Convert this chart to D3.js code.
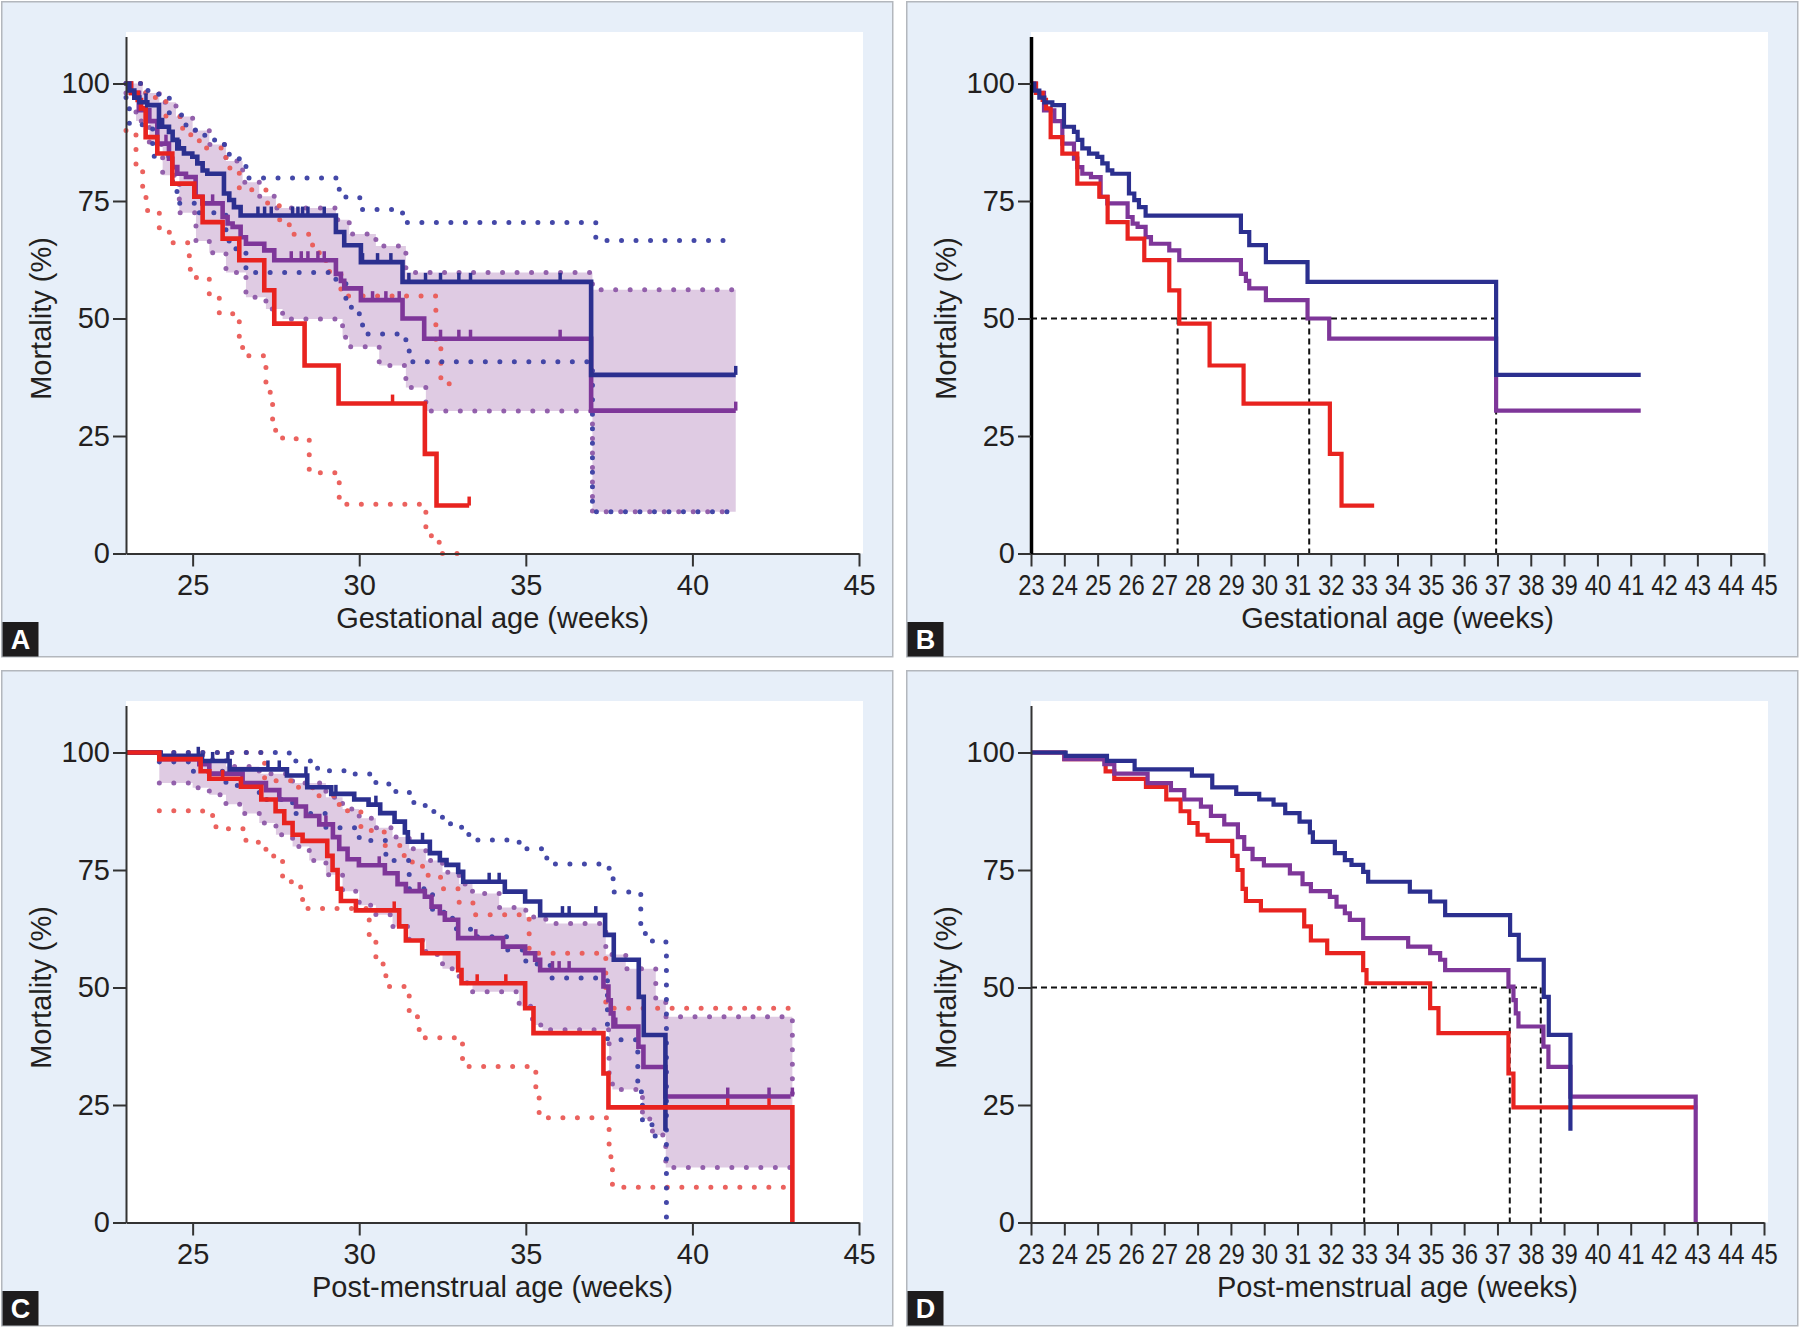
<!DOCTYPE html>
<html><head><meta charset="utf-8">
<script src="https://cdn.jsdelivr.net/npm/d3@7"></script>
<style>body{margin:0;background:#fff}svg{display:block}</style>
</head><body><svg id="c" width="1800" height="1329"></svg>
<script>
// ---------- DATA (week, mortality %) ----------
const gaTicks = [25, 30, 35, 40, 45];
const gaTicksFine = d3.range(23, 46);
const yTicks = [0, 25, 50, 75, 100];

const gaBlue = [[23,100],[23.1,98.5],[23.25,97],[23.4,96],[23.64,95.4],[23.99,90.8],[24.29,89.7],[24.4,88],[24.54,86.2],[24.74,85.1],[24.99,84.4],[25.14,83],[25.3,81.5],[25.44,80.8],[25.94,76.6],[26.1,75.2],[26.24,73.7],[26.44,71.9],[29.3,68.4],[29.55,65.6],[30.05,62.0],[31.3,57.8],[36.96,38.0],[41.3,38.0]];
const gaPurple = [[23,100],[23.15,98],[23.39,94.3],[23.7,92],[23.94,87.2],[24.29,84],[24.39,82.2],[24.54,80.8],[24.8,80.1],[25.09,75.9],[25.29,74.5],[25.9,71.6],[26.05,70.2],[26.2,69.5],[26.44,67.3],[26.6,65.9],[27.15,64.5],[27.45,62.4],[29.3,59.5],[29.45,58],[29.55,56.4],[30.05,53.9],[31.3,50],[31.95,45.7],[36.96,30.4],[41.3,30.4]];
const gaRed = [[23,100],[23.15,98],[23.35,96.5],[23.45,94.7],[23.59,88.6],[23.94,85.1],[24.39,78.7],[25.05,75.9],[25.3,70.5],[25.9,67],[26.4,62.4],[27.15,56],[27.45,48.9],[28.36,40],[29.38,31.9],[31.97,21.2],[32.32,10.2],[33.3,10.2]];

const gaBlueUpper = [[23,100],[23.5,98.5],[23.98,96.9],[24.3,93.3],[24.8,90.1],[25.1,89],[25.4,88],[25.7,87],[26.1,84.5],[26.4,82.4],[26.6,79.9],[29.3,77.5],[29.6,75.7],[30.1,73.2],[31.3,70.4],[37.1,66.6],[41.3,66.6]];
const gaBlueLower = [[23,97],[23.1,91.2],[23.8,84.5],[24.4,77],[24.6,74.5],[25.2,72.5],[26.0,66.5],[26.3,64.4],[26.6,59.8],[29.3,58],[29.6,52.4],[29.8,51],[30.1,46.7],[31.4,43.2],[31.5,40.8],[37.0,8.9],[41.3,8.9]];
const gaPurpleUpper = [[23,100],[23.5,98],[24,96],[24.5,93],[25,90],[25.5,87],[26,83.5],[26.5,79],[27,76],[27.5,73.5],[29.3,71],[29.7,68],[30.5,65.4],[31.4,59.8],[37.0,56.1],[41.3,56.1]];
const gaPurpleLower = [[23,98],[23.3,92],[23.7,87],[24.1,80.5],[24.6,72.5],[25.1,66.5],[25.5,64],[26.0,59.8],[26.6,54.5],[27.2,52],[27.7,49.9],[29.5,46],[29.7,44],[30.6,40],[31.4,35.3],[32.0,30.3],[37.0,8.9],[41.3,8.9]];
const gaRedUpper = [[23,100],[23.6,97],[24.2,93],[24.7,89.1],[25.2,86.3],[26.0,82],[26.4,77.4],[27.2,74.6],[27.6,71],[27.9,67.9],[28.6,64],[29.0,60],[29.45,54.8],[32.3,44.2],[32.45,36.1],[33.0,36.1]];
const gaRedLower = [[23,90],[23.3,82],[23.5,76.4],[23.6,73],[24.0,69],[24.3,66.1],[24.9,60.5],[25.1,58.7],[25.5,55],[25.8,51],[26.4,45.6],[26.5,42.1],[27.2,34.3],[27.4,26.2],[27.7,24.4],[28.5,17.2],[29.4,10.5],[32.0,3.8],[32.4,0],[33.0,0]];

const gaBlueCensor = [23.6,24.1,24.6,25.3,26.96,27.16,27.36,28.0,28.16,28.3,28.46,28.95,30.1,30.55,30.95,31.49,31.99,32.44,32.99,33.34,36.03,41.3];
const gaPurpleCensor = [24.2,25.6,27.96,28.26,28.46,28.76,28.95,30.4,30.8,31.2,32.44,32.99,33.34,36.03,41.3];
const gaRedCensor = [31.0,33.3];
const gaMedians = [27.4, 31.35, 36.96];

const pmaBlue = [[23,100],[24.04,99.3],[25.28,98.2],[26.11,96.4],[27.83,95.1],[28.44,92.6],[29.16,91.2],[29.85,90.0],[30.28,88.9],[30.63,87.1],[31.06,85.3],[31.37,83.0],[31.46,81.0],[32.12,78.6],[32.42,77.1],[32.62,76.1],[32.97,74.6],[33.12,72.5],[34.37,70.4],[34.98,68.3],[35.43,65.4],[37.38,61.2],[37.64,55.9],[38.39,48.0],[38.54,39.9],[39.19,19.5]];
const pmaPurple = [[23,100],[24.0,98.6],[25.2,97.5],[25.5,95.5],[26.5,93.5],[27.2,92],[27.6,90],[28.1,88.5],[28.4,86.5],[28.8,84.7],[29.21,82],[29.4,79.5],[29.65,77.3],[29.99,76],[30.77,74.3],[31.15,72],[31.4,70.5],[31.97,69.3],[32.17,67.2],[32.42,65.8],[32.57,64.4],[32.97,60.5],[34.32,58.7],[34.98,57.3],[35.28,55.9],[35.43,53.7],[37.33,50.2],[37.48,47.3],[37.55,44.5],[37.63,41.7],[38.38,37.4],[38.53,33.1],[39.19,26.8],[42.95,26.8]];
const pmaRed = [[23,100],[24.0,98.6],[25.24,96],[25.5,94.4],[26.45,92.7],[27.06,90],[27.49,87.5],[27.75,85],[28.0,82.5],[28.3,81.2],[29.04,78],[29.2,75],[29.35,71],[29.45,68.4],[29.9,66.4],[31.2,63],[31.4,60],[31.89,57.3],[32.97,53.7],[33.07,50.9],[34.98,45.6],[35.23,40.3],[37.33,31.7],[37.48,24.5],[43.0,24.5]];
const pmaPurpleD = pmaPurple.concat([[42.95,0]]);
const pmaRedC = pmaRed.concat([[43.0,0]]);

const pmaBlueUpper = [[24,100],[27.9,98.2],[28.75,96.1],[29.85,95.4],[30.5,93.3],[31.1,91.5],[31.64,88.7],[32.24,86.2],[32.74,84.1],[33.29,81.4],[34.8,79.5],[35.48,78.1],[35.63,76.3],[37.5,73.6],[37.62,70.3],[38.45,61.5],[38.8,59.7],[39.22,0]];
const pmaBlueLower = [[24,98],[25,96],[26,93],[27,90],[28,87],[29,84],[30,81.3],[30.8,77],[31.5,71],[32.2,66],[32.8,62.5],[33.34,60.8],[34.43,58],[35.0,55],[35.73,52],[37.45,38.9],[38.36,27.8],[38.5,20.8],[38.82,18.4],[39.0,18.4]];
const pmaPurpleUpper = [[24,99.5],[25.3,98.5],[26,97],[27,95.5],[28,93.5],[29,90.5],[29.5,88],[30,86],[30.5,84],[31,82],[31.5,79.5],[32,77],[32.5,74.5],[33,72],[33.4,70],[34.2,67],[35,65],[35.6,63.6],[37.4,57],[38,54],[38.9,47.4],[39.2,43.8],[43,27]];
const pmaPurpleLower = [[24,93.5],[25,92.5],[25.5,91],[26,89],[26.5,87],[27,85],[27.5,82.5],[28,80],[28.5,77],[29,74],[29.5,70.5],[30,67.5],[30.5,65.5],[31,63],[31.5,60],[32,57],[32.5,54],[33,51],[33.4,49.1],[34.8,46],[35.2,42],[35.5,41],[37.5,30],[37.6,28.3],[38.5,22],[38.8,18.6],[39.2,11.7],[43,11.7]];
const pmaRedUpper = [[24,100],[27.16,94],[27.96,92.6],[28.6,90.8],[29.4,87.6],[30.05,83.4],[30.75,80.2],[31.35,76.7],[31.9,73.9],[32.44,71],[33.0,68],[33.44,65.5],[35.1,57.3],[37.4,45.6],[43,45.6]];
const pmaRedLower = [[24,87.6],[25.3,86.6],[25.7,83.8],[26.6,80.9],[27.2,78],[27.7,72.5],[28.0,71.4],[28.3,66.8],[30.3,61],[30.5,55],[30.8,50.2],[31.5,43.8],[31.8,39.3],[33.1,33.2],[35.3,27],[35.4,22.3],[37.5,14],[37.6,7.5],[43,7.5]];

const pmaBlueCensor = [25.17,25.6,26.06,27.26,27.6,28.4,29.3,30.5,31.9,33.9,34.2,36.1,36.3,37.1];
const pmaPurpleCensor = [29.0,30.6,31.8,33.5,35.8,36.0,36.3,37.7,41.06,42.3,43.0];
const pmaRedCensor = [25.9,31.05,33.54,34.4,41.06,42.3];
const pmaMedians = [33.0, 37.37, 38.3];

// ---------- STYLE ----------
const COL = {blue:'#2b2f8f', purple:'#7e3699', red:'#e8231f',
  dBlue:'#3a3ea3', dPurple:'#8d58a8', dRed:'#ea5a55', band:'#dcc5e0',
  bg:'#e7eff9', border:'#b3b7bd', text:'#231f20'};
const FONT = "'Liberation Sans', Arial, sans-serif";

const svg = d3.select('#c');

const panels = [
  {id:'A', ox:1, oy:1, ticks:gaTicks, title:'Gestational age (weeks)', lw:4.6,
   curves:[['purple',gaPurple],['red',gaRed],['blue',gaBlue]],
   band:[gaPurpleUpper, gaPurpleLower],
   dots:[['dPurple',gaPurpleUpper],['dPurple',gaPurpleLower],['dRed',gaRedUpper],['dRed',gaRedLower],['dBlue',gaBlueUpper],['dBlue',gaBlueLower]],
   censor:[['purple',gaPurple,gaPurpleCensor],['red',gaRed,gaRedCensor],['blue',gaBlue,gaBlueCensor]]},
  {id:'B', ox:906, oy:1, ticks:gaTicksFine, fine:true, title:'Gestational age (weeks)', thickAxis:true, lw:4.2,
   curves:[['purple',gaPurple],['red',gaRed],['blue',gaBlue]], medians:gaMedians},
  {id:'C', ox:1, oy:670, ticks:gaTicks, title:'Post-menstrual age (weeks)', lw:4.6,
   curves:[['purple',pmaPurple],['blue',pmaBlue],['red',pmaRedC]],
   band:[pmaPurpleUpper, pmaPurpleLower],
   dots:[['dPurple',pmaPurpleUpper],['dPurple',pmaPurpleLower],['dRed',pmaRedUpper],['dRed',pmaRedLower],['dBlue',pmaBlueUpper],['dBlue',pmaBlueLower]],
   censor:[['purple',pmaPurple,pmaPurpleCensor],['red',pmaRed,pmaRedCensor],['blue',pmaBlue,pmaBlueCensor]]},
  {id:'D', ox:906, oy:670, ticks:gaTicksFine, fine:true, title:'Post-menstrual age (weeks)', lw:4.2,
   curves:[['red',pmaRed],['purple',pmaPurpleD],['blue',pmaBlue]], medians:pmaMedians}
];

function stepVal(arr, w){ let v = arr[0][1]; for (const d of arr){ if (d[0] <= w) v = d[1]; else break; } return v; }

panels.forEach(p => {
  const g = svg.append('g').attr('transform', `translate(${p.ox},${p.oy})`);
  g.append('rect').attr('x',0.75).attr('y',0.75).attr('width',891).attr('height',655)
    .attr('fill',COL.bg).attr('stroke',COL.border).attr('stroke-width',1.5);
  const x = d3.scaleLinear().domain([23,45]).range([125,858]);
  const y = d3.scaleLinear().domain([0,110]).range([552.5, 552.5 - 4.7*110]);
  g.append('rect').attr('x',x(23)).attr('y',31).attr('width',862-x(23)).attr('height',y(0)-31).attr('fill','#fff');

  const line = d3.line().x(d=>x(d[0])).y(d=>y(d[1])).curve(d3.curveStepAfter);

  if (p.band){
    const [up, lo] = p.band;
    const s = Math.max(up[0][0], lo[0][0]);
    const e = Math.min(up[up.length-1][0], lo[lo.length-1][0]);
    const ws = Array.from(new Set(up.concat(lo).map(d=>d[0]).filter(w=>w>=s && w<e))).sort((a,b)=>a-b);
    const pts = ws.map(w=>({w, hi:stepVal(up,w), lo:stepVal(lo,w)}));
    const last = pts[pts.length-1];
    pts.push({w:e, hi:last.hi, lo:last.lo});
    g.append('path').datum(pts)
      .attr('d', d3.area().x(d=>x(d.w)).y0(d=>y(d.lo)).y1(d=>y(d.hi)).curve(d3.curveStepAfter))
      .attr('fill', COL.band).attr('opacity',0.9);
  }
  if (p.dots){
    p.dots.forEach(([c, arr]) => {
      g.append('path').datum(arr).attr('d', line).attr('fill','none')
        .attr('stroke', COL[c]).attr('stroke-width',5).attr('stroke-linecap','round')
        .attr('stroke-dasharray','0 14.5').attr('opacity',0.95);
    });
  }
  if (p.medians){
    const mx = d3.max(p.medians);
    g.append('line').attr('x1',x(23)).attr('x2',x(mx)).attr('y1',y(50)).attr('y2',y(50))
      .attr('stroke','#111').attr('stroke-width',2).attr('stroke-dasharray','6 4');
    p.medians.forEach(m => {
      g.append('line').attr('x1',x(m)).attr('x2',x(m)).attr('y1',y(50)).attr('y2',y(0))
        .attr('stroke','#111').attr('stroke-width',2).attr('stroke-dasharray','6 4');
    });
  }
  p.curves.forEach(([c, arr]) => {
    g.append('path').datum(arr).attr('d', line).attr('fill','none')
      .attr('stroke', COL[c]).attr('stroke-width',p.lw).attr('stroke-linejoin','miter');
  });
  if (p.censor){
    p.censor.forEach(([c, arr, ws]) => {
      g.selectAll(null).data(ws).enter().append('line')
        .attr('x1', w=>x(w)).attr('x2', w=>x(w))
        .attr('y1', w=>y(stepVal(arr,w))).attr('y2', w=>y(stepVal(arr,w))-9)
        .attr('stroke', COL[c]).attr('stroke-width',3.5);
    });
  }

  // axes
  const xa = g.append('g').attr('transform',`translate(0,${y(0)})`)
    .call(d3.axisBottom(x).tickValues(p.ticks).tickFormat(d3.format('d')).tickSize(13).tickSizeOuter(0).tickPadding(8));
  const ya = g.append('g').attr('transform',`translate(${x(23)},0)`)
    .call(d3.axisLeft(y).tickValues(yTicks).tickSize(13).tickSizeOuter(0).tickPadding(3));
  [xa, ya].forEach(a => {
    a.selectAll('path,line').attr('stroke','#333').attr('stroke-width',2);
    a.selectAll('text').attr('fill',COL.text).style('font-family',FONT).style('font-size','29px');
  });
  if (p.fine) {
    xa.selectAll('text').attr('textLength',26.5).attr('lengthAdjust','spacingAndGlyphs');
  }
  if (p.thickAxis) ya.select('path').attr('stroke','#000').attr('stroke-width',3.5);

  g.append('text').attr('x',(x(23)+x(45))/2).attr('y',627)
    .attr('text-anchor','middle').attr('fill',COL.text).style('font-family',FONT).style('font-size','29px')
    .text(p.title);
  g.append('text').attr('transform',`translate(50,${y(50)}) rotate(-90)`)
    .attr('text-anchor','middle').attr('fill',COL.text).style('font-family',FONT).style('font-size','29px')
    .text('Mortality (%)');

  g.append('rect').attr('x',1.5).attr('y',621).attr('width',36).attr('height',34.5).attr('fill','#1e1c1d');
  g.append('text').attr('x',19.5).attr('y',648).attr('text-anchor','middle').attr('fill','#fff')
    .style('font-family',FONT).style('font-weight','bold').style('font-size','27px').text(p.id);
});
</script>
</body></html>
